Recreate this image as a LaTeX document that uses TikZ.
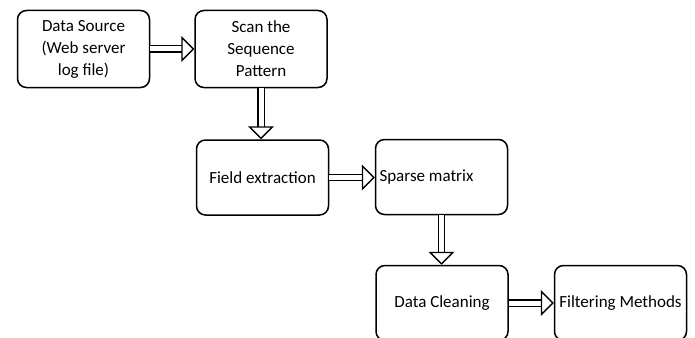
\documentclass[tikz,border=0pt]{standalone}
\usepackage{fontspec}
\setmainfont{Carlito}
\usetikzlibrary{arrows.meta}

\begin{document}
\begin{tikzpicture}[x=1pt,y=-1pt,line width=1.5pt,
  box/.style={draw,rounded corners=9pt,minimum width=132pt,minimum height=77pt,
    align=center,inner sep=2pt,font=\fontsize{17}{22}\selectfont},
  flow/.style={double,double distance=5pt,line width=1.4pt,
    -{Triangle[open,length=13pt,width=26pt]}}]
\useasboundingbox (0,0) rectangle (695,337);
\clip (0,0) rectangle (695,337);
% 第一行
\node[box] (src) at (83.5,49) {Data Source\\(Web server\\log file)};
\node[box] (scan) at (261,49) {Scan the\\Sequence\\Pattern};
% 第二行
\node[box,minimum height=75pt] (field) at (262.5,177.5) {Field extraction};
\node[box,minimum height=75pt,text width=124pt,align=flush left,inner xsep=4pt] (sparse) at (441.5,177) {Sparse matrix};
% 第三行（下边被裁掉）
\node[box,minimum height=75pt] (clean) at (442,303) {Data Cleaning};
\node[box,minimum height=75pt,inner xsep=0pt] (filter) at (620.5,303) {Filtering Methods};
% 箭头
\draw[flow] (src) -- (scan);
\draw[flow] (scan) -- (scan|-field.north);
\draw[flow] (field) -- (sparse.west|-field);
\draw[flow] (sparse) -- (sparse|-clean.north);
\draw[flow] (clean) -- (filter);
\end{tikzpicture}
\end{document}
